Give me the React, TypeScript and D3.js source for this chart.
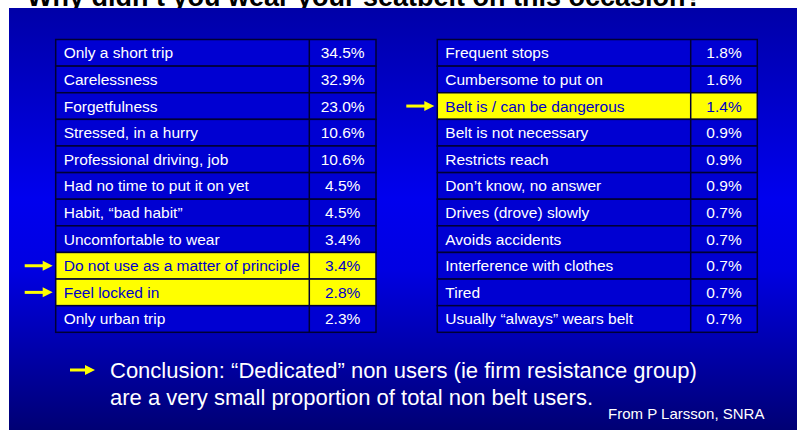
import * as d3 from 'd3';
import React, {useEffect, useRef} from 'react';

// reasons and shares
const leftReasons = [
    'Only a short trip', 'Carelessness', 'Forgetfulness', 'Stressed, in a hurry',
    'Professional driving, job', 'Had no time to put it on yet', 'Habit, \u201cbad habit\u201d',
    'Uncomfortable to wear', 'Do not use as a matter of principle', 'Feel locked in', 'Only urban trip',
];
const leftShares = ['34.5%', '32.9%', '23.0%', '10.6%', '10.6%', '4.5%', '4.5%', '3.4%', '3.4%', '2.8%', '2.3%'];
const leftMarked = ['Do not use as a matter of principle', 'Feel locked in'];

const rightReasons = [
    'Frequent stops', 'Cumbersome to put on', 'Belt is / can be dangerous', 'Belt is not necessary',
    'Restricts reach', 'Don\u2019t know, no answer', 'Drives (drove) slowly', 'Avoids accidents',
    'Interference with clothes', 'Tired', 'Usually \u201calways\u201d wears belt',
];
const rightShares = ['1.8%', '1.6%', '1.4%', '0.9%', '0.9%', '0.9%', '0.7%', '0.7%', '0.7%', '0.7%', '0.7%'];
const rightMarked = ['Belt is / can be dangerous'];

const title = 'Why didn\u2019t you wear your seatbelt on this occasion?';
const conclusion = [
    'Conclusion: \u201cDedicated\u201d non users (ie firm resistance group)',
    'are a very small proportion of total non belt users.',
];
const source = 'From P Larsson, SNRA';

const W = 797, H = 430;
const font = '"Liberation Sans", Arial, sans-serif';

function App() {
    const ref = useRef(null);

    useEffect(() => {
        const svg = d3.select(ref.current);
        svg.selectAll('*').remove();

        // background gradient
        const defs = svg.append('defs');
        const grad = defs.append('linearGradient')
            .attr('id', 'bg')
            .attr('x1', 0).attr('y1', 0).attr('x2', 0).attr('y2', 1);
        [[0, '#0000a8'], [0.45, '#0000ee'], [0.62, '#0000e2'], [1, '#000074']].forEach(([o, c]) => {
            grad.append('stop').attr('offset', o).attr('stop-color', c);
        });

        svg.append('rect').attr('width', W).attr('height', H).attr('fill', 'white');

        // title sits behind the blue box, only its lower edge shows
        svg.append('text')
            .attr('x', 27).attr('y', 6)
            .attr('font-family', font)
            .attr('font-weight', 'bold')
            .attr('font-size', 27)
            .attr('fill', 'black')
            .text(title);

        svg.append('rect')
            .attr('x', 9).attr('y', 8)
            .attr('width', W - 9).attr('height', H - 8)
            .attr('fill', 'url(#bg)');

        const arrow = (g, x1, x2, y, w = 3) => {
            g.append('line')
                .attr('x1', x1).attr('x2', x2 - 8)
                .attr('y1', y).attr('y2', y)
                .attr('stroke', '#ffff00')
                .attr('stroke-width', w);
            g.append('path')
                .attr('d', `M${x2 - 10},${y - 5}L${x2},${y}L${x2 - 10},${y + 5}Z`)
                .attr('fill', '#ffff00');
        };

        const drawTable = (labels, values, marked, x0, xSplit, x1) => {
            const y = d3.scaleBand()
                .domain(labels)
                .range([39.5, 332.3]);
            const g = svg.append('g');

            labels.forEach((d, i) => {
                const hi = marked.includes(d);
                const top = y(d);
                g.append('rect')
                    .attr('x', x0).attr('y', top)
                    .attr('width', x1 - x0).attr('height', y.bandwidth())
                    .attr('fill', hi ? '#ffff00' : '#0000d2')
                    .attr('stroke', '#000033')
                    .attr('stroke-width', 1.5);
                g.append('line')
                    .attr('x1', xSplit).attr('x2', xSplit)
                    .attr('y1', top).attr('y2', top + y.bandwidth())
                    .attr('stroke', '#000033')
                    .attr('stroke-width', 1.5);
                g.append('text')
                    .attr('x', x0 + 8)
                    .attr('y', top + y.bandwidth() / 2 + 5.5)
                    .attr('font-family', font)
                    .attr('font-size', 15.5)
                    .attr('fill', hi ? '#0000c8' : 'white')
                    .text(d);
                g.append('text')
                    .attr('x', (xSplit + x1) / 2)
                    .attr('y', top + y.bandwidth() / 2 + 5.5)
                    .attr('text-anchor', 'middle')
                    .attr('font-family', font)
                    .attr('font-size', 15.5)
                    .attr('fill', hi ? '#0000c8' : 'white')
                    .text(values[i]);
                if (hi) {
                    arrow(g, x0 - 31, x0 - 3, top + y.bandwidth() / 2);
                }
            });
        };

        drawTable(leftReasons, leftShares, leftMarked, 55.7, 309.3, 376);
        drawTable(rightReasons, rightShares, rightMarked, 437.3, 690.7, 757.3);

        // conclusion
        arrow(svg, 70, 95, 370);
        conclusion.forEach((line, i) => {
            svg.append('text')
                .attr('x', 110)
                .attr('y', 378 + i * 27)
                .attr('font-family', font)
                .attr('font-size', 22)
                .attr('fill', 'white')
                .text(line);
        });
        svg.append('text')
            .attr('x', 608)
            .attr('y', 419)
            .attr('font-family', font)
            .attr('font-size', 15)
            .attr('fill', 'white')
            .text(source);
    }, []);

    return (
        <svg ref={ref} width={W} height={H}
            style={{position: 'absolute', left: 0, top: 0, display: 'block'}} />
    );
}

export default App;
